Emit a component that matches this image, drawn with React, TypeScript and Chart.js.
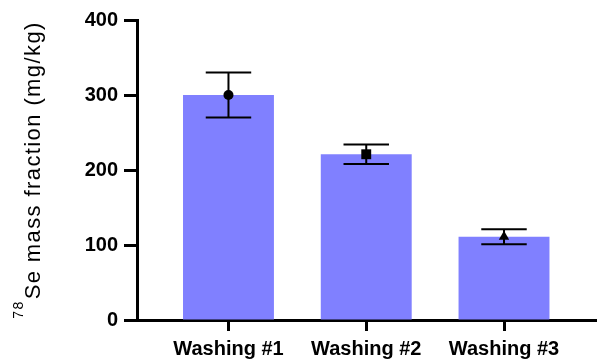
import React, { useEffect, useRef } from "react";
import { Chart, registerables } from "chart.js";

Chart.register(...registerables);

const categories = ["Washing #1", "Washing #2", "Washing #3"];
const positions = [1, 2, 3];
const meanValues = [300, 221, 111];
const errorValues = [30, 13, 10];
const markerStyles = ["circle", "rect", "triangle"];
const markerRadii = [5, 7, 6];
const yTicks = [0, 100, 200, 300, 400];
const titleSup = "78";
const titleMain = "Se mass fraction (mg/kg)";

const FONT = "'Liberation Sans', Arial, Helvetica, sans-serif";

const errorBarPlugin = {
  id: "errorBars",
  afterDatasetDraw(chart: any, args: any) {
    if (args.meta.type !== "bar") return;
    const ctx = chart.ctx;
    const xs = chart.scales.x;
    const ys = chart.scales.y;
    ctx.save();
    ctx.strokeStyle = "#000";
    ctx.lineWidth = 2;
    args.meta.data.forEach((bar: any, i: number) => {
      const x = xs.getPixelForValue(positions[i]);
      const top = ys.getPixelForValue(meanValues[i] + errorValues[i]);
      const bot = ys.getPixelForValue(meanValues[i] - errorValues[i]);
      const half = bar.width / 4;
      ctx.beginPath();
      ctx.moveTo(x, top);
      ctx.lineTo(x, bot);
      ctx.moveTo(x - half, top);
      ctx.lineTo(x + half, top);
      ctx.moveTo(x - half, bot);
      ctx.lineTo(x + half, bot);
      ctx.stroke();
    });
    ctx.restore();
  },
};

const yTitlePlugin = {
  id: "yTitle",
  afterDraw(chart: any) {
    const ctx = chart.ctx;
    const area = chart.chartArea;
    const ys = chart.scales.y;
    ctx.save();
    ctx.fillStyle = "#000";
    (ctx as any).letterSpacing = "1.4px";
    ctx.font = `normal 22px ${FONT}`;
    const mainW = ctx.measureText(titleMain).width;
    ctx.font = `normal 14px ${FONT}`;
    const supW = ctx.measureText(titleSup).width;
    const gap = 1;
    const total = supW + gap + mainW;
    const cy = (area.top + area.bottom) / 2;
    const baseX = ys.left + 40;
    ctx.translate(baseX, cy + total / 2);
    ctx.rotate(-Math.PI / 2);
    ctx.textBaseline = "alphabetic";
    ctx.textAlign = "left";
    ctx.font = `normal 14px ${FONT}`;
    ctx.fillText(titleSup, 0, -17);
    ctx.font = `normal 22px ${FONT}`;
    ctx.fillText(titleMain, supW + gap, 0);
    ctx.restore();
  },
};

export default function App() {
  const ref = useRef<HTMLCanvasElement | null>(null);
  useEffect(() => {
    if (!ref.current) return;
    const chart = new Chart(ref.current, {
      type: "bar",
      data: {
        datasets: [
          {
            type: "bar",
            data: positions.map((p, i) => ({ x: p, y: meanValues[i] })),
            backgroundColor: "#8080ff",
            borderWidth: 0,
            categoryPercentage: 1,
            barPercentage: 0.66,
            order: 2,
          } as any,
          {
            type: "scatter",
            data: positions.map((p, i) => ({ x: p, y: meanValues[i] })),
            backgroundColor: "#000",
            borderColor: "#000",
            pointStyle: markerStyles as any,
            pointRadius: markerRadii,
            borderWidth: 0,
            order: 1,
          } as any,
        ],
      },
      options: {
        animation: false,
        responsive: true,
        maintainAspectRatio: false,
        layout: { autoPadding: false, padding: { top: 20, right: 0, left: 0, bottom: 0 } },
        plugins: { legend: { display: false }, tooltip: { enabled: false } },
        scales: {
          x: {
            type: "linear",
            offset: false,
            min: 0.336,
            max: 3.675,
            afterBuildTicks: (scale: any) => {
              scale.ticks = positions.map((v) => ({ value: v }));
            },
            afterFit: (scale: any) => {
              scale.height = 40;
              scale.paddingLeft = 0;
              scale.paddingRight = 0;
            },
            ticks: {
              autoSkip: false,
              maxRotation: 0,
              padding: 6,
              color: "#000",
              font: { family: FONT, size: 20, weight: "bold" },
              callback: (v: any) => categories[positions.indexOf(Number(v))] ?? "",
            },
            grid: {
              offset: false,
              drawOnChartArea: false,
              tickLength: 11,
              tickWidth: 3,
              tickColor: "#000",
            },
            border: { display: true, color: "#000", width: 3 },
          },
          y: {
            min: 0,
            max: 400,
            afterBuildTicks: (scale: any) => {
              scale.ticks = yTicks.map((v) => ({ value: v }));
            },
            afterFit: (scale: any) => {
              scale.width = 137;
            },
            ticks: {
              padding: 6,
              color: "#000",
              font: { family: FONT, size: 20, weight: "bold" },
            },
            grid: {
              drawOnChartArea: false,
              tickLength: 13,
              tickWidth: 3,
              tickColor: "#000",
            },
            border: { display: true, color: "#000", width: 3 },
          },
        },
      },
      plugins: [errorBarPlugin, yTitlePlugin],
    });
    return () => chart.destroy();
  }, []);
  return (
    <div style={{ position: "fixed", left: 0, top: 0, width: 597, height: 360, background: "#fff" }}>
      <canvas ref={ref} />
    </div>
  );
}
